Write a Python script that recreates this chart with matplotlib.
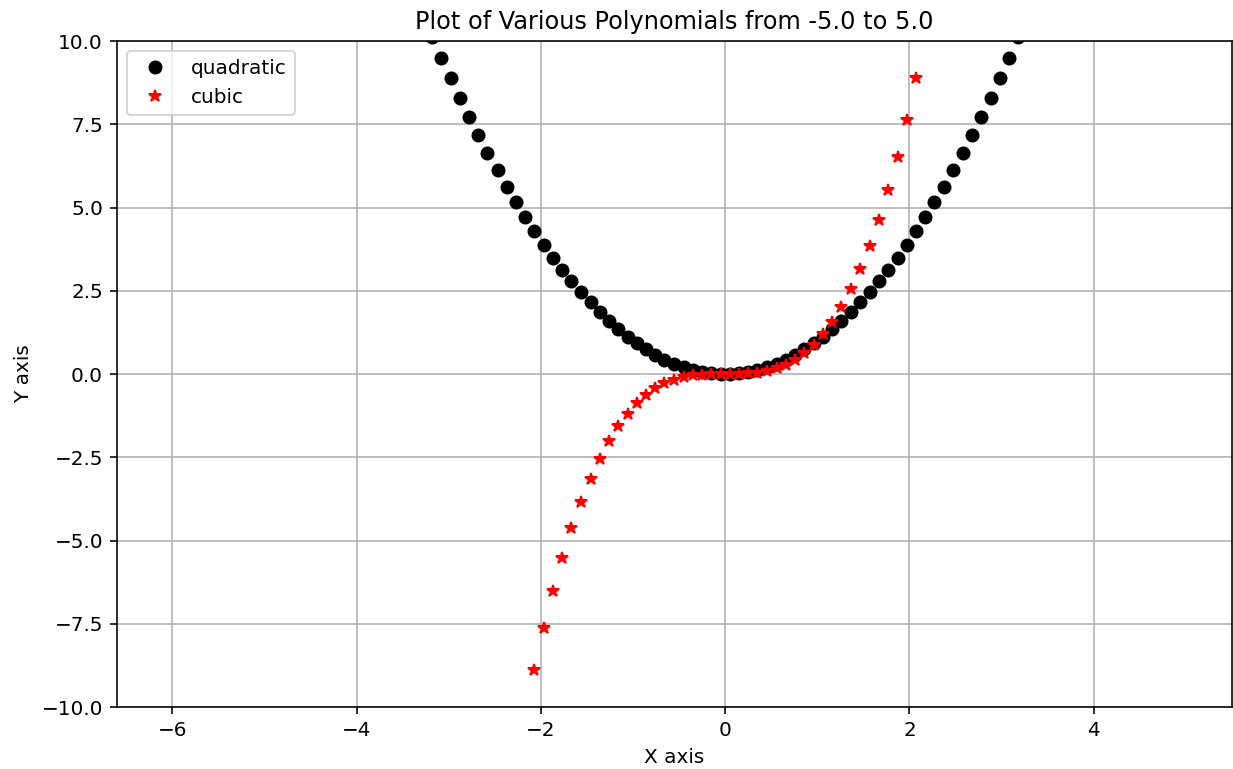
import matplotlib
matplotlib.use('Agg')
import matplotlib.pyplot as plt

# sample points (only the ones that fall inside the view)
x_quad = [-3.18, -3.08, -2.98, -2.88, -2.78, -2.68, -2.58, -2.47, -2.37, -2.27,
          -2.17, -2.07, -1.97, -1.87, -1.77, -1.67, -1.57, -1.46, -1.36, -1.26,
          -1.16, -1.06, -0.96, -0.86, -0.76, -0.66, -0.56, -0.45, -0.35, -0.25,
          -0.15, -0.05,
          0.05, 0.15, 0.25, 0.35, 0.45, 0.56, 0.66, 0.76, 0.86, 0.96,
          1.06, 1.16, 1.26, 1.36, 1.46, 1.57, 1.67, 1.77, 1.87, 1.97,
          2.07, 2.17, 2.27, 2.37, 2.47, 2.58, 2.68, 2.78, 2.88, 2.98,
          3.08, 3.18]
y_quad = [10.12, 9.49, 8.88, 8.29, 7.72, 7.17, 6.63, 6.12, 5.63, 5.17,
          4.72, 4.29, 3.88, 3.49, 3.12, 2.78, 2.45, 2.15, 1.86, 1.59,
          1.35, 1.12, 0.92, 0.74, 0.57, 0.43, 0.31, 0.21, 0.13, 0.06,
          0.02, 0.00,
          0.00, 0.02, 0.06, 0.13, 0.21, 0.31, 0.43, 0.57, 0.74, 0.92,
          1.12, 1.35, 1.59, 1.86, 2.15, 2.45, 2.78, 3.12, 3.49, 3.88,
          4.29, 4.72, 5.17, 5.63, 6.12, 6.63, 7.17, 7.72, 8.29, 8.88,
          9.49, 10.12]

x_cubic = [-2.07, -1.97, -1.87, -1.77, -1.67, -1.57, -1.46, -1.36, -1.26, -1.16,
           -1.06, -0.96, -0.86, -0.76, -0.66, -0.56, -0.45, -0.35, -0.25, -0.15,
           -0.05,
           0.05, 0.15, 0.25, 0.35, 0.45, 0.56, 0.66, 0.76, 0.86, 0.96,
           1.06, 1.16, 1.26, 1.36, 1.46, 1.57, 1.67, 1.77, 1.87, 1.97, 2.07]
y_cubic = [-8.88, -7.64, -6.53, -5.52, -4.63, -3.84, -3.14, -2.54, -2.01, -1.57,
           -1.19, -0.88, -0.63, -0.43, -0.28, -0.17, -0.09, -0.04, -0.02, -0.00,
           -0.00,
           0.00, 0.00, 0.02, 0.04, 0.09, 0.17, 0.28, 0.43, 0.63, 0.88,
           1.19, 1.57, 2.01, 2.54, 3.14, 3.84, 4.63, 5.52, 6.53, 7.64, 8.88]

# rendered at 144 dpi so text and markers come out at the reference's scale
fig = plt.figure(figsize=(1233 / 144, 769 / 144), dpi=144)
ax = fig.add_axes([0.0949, 0.0806, 0.9043, 0.866])

ax.plot(x_quad, y_quad, 'ko', label='quadratic')
ax.plot(x_cubic, y_cubic, 'r*', label='cubic')

ax.set_xlim(-6.6, 5.5)
ax.set_ylim(-10, 10)
ax.set_title('Plot of Various Polynomials from -5.0 to 5.0')
ax.set_xlabel('X axis')
ax.set_ylabel('Y axis')
ax.grid(True)
ax.legend(loc='upper left')

fig.savefig('out.png', dpi=144)
